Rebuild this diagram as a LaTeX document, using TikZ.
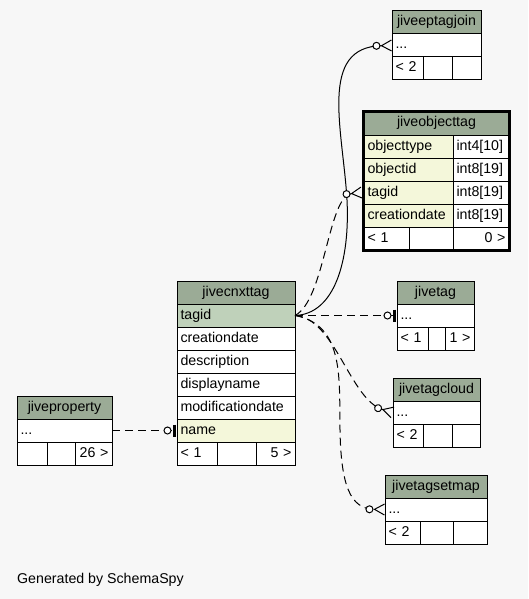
\documentclass[tikz,border=0pt]{standalone}
\usepackage{fontspec}
\setmainfont{Liberation Sans}
\usetikzlibrary{positioning}
\usetikzlibrary{arrows.meta}
\usetikzlibrary{fit}
\definecolor{hdrgreen}{RGB}{155,171,150}
\definecolor{keygreen}{RGB}{191,209,186}
\definecolor{colyellow}{RGB}{244,247,218}
\definecolor{bggray}{RGB}{247,247,247}

\begin{document}
\begin{tikzpicture}[x=1pt, y=-1pt,
    font=\fontsize{14.2pt}{17pt}\selectfont,
    cell/.style={draw, line width=1pt, outer sep=0pt, inner xsep=3.5pt, inner ysep=0pt,
        minimum height=23pt, text height=10.5pt, text depth=3.5pt},
    head/.style={cell, fill=hdrgreen, minimum width=#1pt},
    fld/.style={cell, fill=white, text width=#1pt, align=left},
    num/.style={cell, fill=white, text width=#1pt, align=right},
    link/.style={line width=1pt},
    dlink/.style={link, dash pattern=on 8pt off 5pt},
    many/.style={-{Circle[fill=white,length=8pt,width=8pt] Straight Barb[reversed,length=10pt,width=11pt,sep=0pt]}},
    zeroone/.style={-{Circle[fill=white,length=8pt,width=8pt,sep=1.5pt] Bar[width=12pt,line width=3pt,sep=1pt]}}]

    \fill[bggray] (0,0) rectangle (528,599);

    % jiveeptagjoin
    \node[head=89, anchor=north west] (ep) at (392,11) {jiveeptagjoin};
    \node[fld=82, below=0pt of ep] (ep-r) {...};
    \node[fld=24, below right=0pt of ep-r.south west] (ep-b1) {< 2};
    \node[fld=22, right=0pt of ep-b1] (ep-b2) {};
    \node[fld=22, right=0pt of ep-b2] (ep-b3) {};

    % jiveobjecttag
    \node[head=145, anchor=north west] (ot) at (364,112) {jiveobjecttag};
    \node[fld=82, fill=colyellow, below right=0pt of ot.south west] (ot-objecttype) {objecttype};
    \node[fld=49, right=0pt of ot-objecttype] (ot-objecttype-t) {int4[10]};
    \node[fld=82, fill=colyellow, below=0pt of ot-objecttype] (ot-objectid) {objectid};
    \node[fld=49, right=0pt of ot-objectid] (ot-objectid-t) {int8[19]};
    \node[fld=82, fill=colyellow, below=0pt of ot-objectid] (ot-tagid) {tagid};
    \node[fld=49, right=0pt of ot-tagid] (ot-tagid-t) {int8[19]};
    \node[fld=82, fill=colyellow, below=0pt of ot-tagid] (ot-creationdate) {creationdate};
    \node[fld=49, right=0pt of ot-creationdate] (ot-creationdate-t) {int8[19]};
    \node[fld=38, below right=0pt of ot-creationdate.south west] (ot-b1) {< 1};
    \node[fld=37, right=0pt of ot-b1] (ot-b2) {};
    \node[num=49, right=0pt of ot-b2] (ot-b3) {0 >};
    \node[fit=(ot)(ot-b3), draw, line width=3pt, inner sep=0.5pt] (ot-frame) {};

    % jivecnxttag
    \node[head=118, anchor=north west] (cnx) at (177,281) {jivecnxttag};
    \node[fld=111, fill=keygreen, below=0pt of cnx] (cnx-tagid) {tagid};
    \node[fld=111, below=0pt of cnx-tagid] (cnx-creationdate) {creationdate};
    \node[fld=111, below=0pt of cnx-creationdate] (cnx-description) {description};
    \node[fld=111, below=0pt of cnx-description] (cnx-displayname) {displayname};
    \node[fld=111, below=0pt of cnx-displayname] (cnx-modificationdate) {modificationdate};
    \node[fld=111, fill=colyellow, below=0pt of cnx-modificationdate] (cnx-name) {name};
    \node[fld=33, below right=0pt of cnx-name.south west] (cnx-b1) {< 1};
    \node[fld=32, right=0pt of cnx-b1] (cnx-b2) {};
    \node[num=32, right=0pt of cnx-b2] (cnx-b3) {5 >};

    % jiveproperty
    \node[head=95, anchor=north west] (prop) at (17,396) {jiveproperty};
    \node[fld=88, below=0pt of prop] (prop-r) {...};
    \node[fld=23, below right=0pt of prop-r.south west] (prop-b1) {};
    \node[fld=21, right=0pt of prop-b1] (prop-b2) {};
    \node[num=30, right=0pt of prop-b2] (prop-b3) {26 >};

    % jivetag
    \node[head=77, anchor=north west] (tag) at (397,281) {jivetag};
    \node[fld=70, below=0pt of tag] (tag-r) {...};
    \node[fld=24, below right=0pt of tag-r.south west] (tag-b1) {< 1};
    \node[fld=10, right=0pt of tag-b1] (tag-b2) {};
    \node[num=22, right=0pt of tag-b2] (tag-b3) {1 >};

    % jivetagcloud
    \node[head=87, anchor=north west] (tc) at (393,378) {jivetagcloud};
    \node[fld=80, below=0pt of tc] (tc-r) {...};
    \node[fld=23, below right=0pt of tc-r.south west] (tc-b1) {< 2};
    \node[fld=22, right=0pt of tc-b1] (tc-b2) {};
    \node[fld=21, right=0pt of tc-b2] (tc-b3) {};

    % jivetagsetmap
    \node[head=102, anchor=north west] (tsm) at (385,475) {jivetagsetmap};
    \node[fld=95, below=0pt of tsm] (tsm-r) {...};
    \node[fld=28, below right=0pt of tsm-r.south west] (tsm-b1) {< 2};
    \node[fld=26, right=0pt of tsm-b1] (tsm-b2) {};
    \node[fld=27, right=0pt of tsm-b2] (tsm-b3) {};

    % links
    \draw[link, many] (cnx-tagid.east) .. controls (335,314) and (350,260) .. (347,200)
        .. controls (343,130) and (318,47) .. (ep-r.west);
    \draw[dlink, many] (cnx-tagid.east) .. controls (325,300) and (328,196) .. (ot-tagid.west -| ot-frame.west);
    \draw[dlink, zeroone] (cnx-tagid.east) -- (tag-r.west);
    \draw[dlink, many] (cnx-tagid.east) .. controls (335,318) and (350,400) .. (tc-r.west);
    \draw[dlink, many] (cnx-tagid.east) .. controls (345,325) and (339,380) .. (340,430)
        .. controls (341,485) and (350,509) .. (tsm-r.west);
    \draw[dlink, zeroone] (prop-r.east) -- (cnx-name.west);

    \node[anchor=west, inner sep=0pt] (credit) at (17,580) {Generated by SchemaSpy};
\end{tikzpicture}
\end{document}
